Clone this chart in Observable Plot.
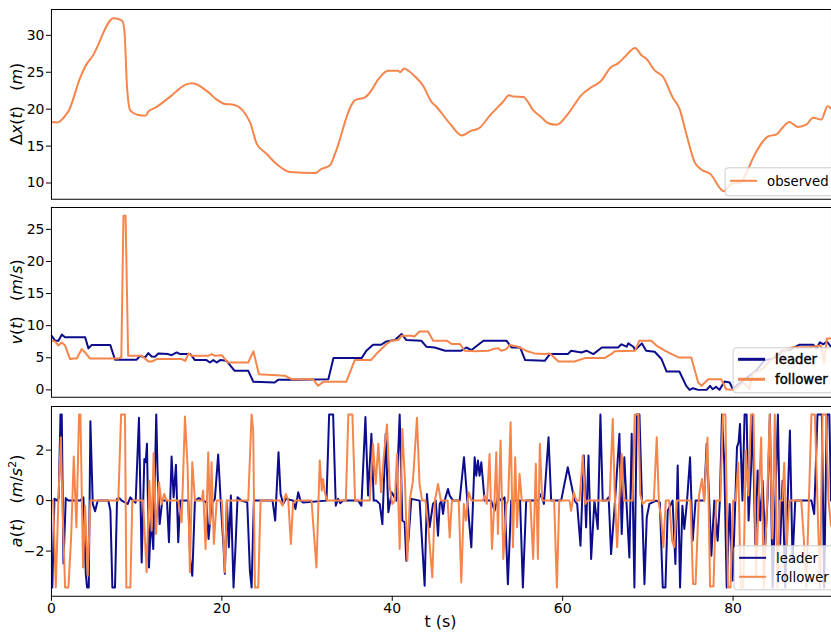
<!DOCTYPE html>
<html><head><meta charset="utf-8">
<script src="https://cdn.jsdelivr.net/npm/d3@7"></script>
<script src="https://cdn.jsdelivr.net/npm/@observablehq/plot@0.6"></script>
<style>
body{margin:0;background:#fff;}
#chart{width:831px;height:632px;overflow:hidden;}
#chart svg{display:block;}
</style></head><body><div id="chart"></div>
<script>
// ---- data (t in seconds, value) ----
const xTicks = [0, 20, 40, 60, 80];
const gapTicks = [10, 15, 20, 25, 30];
const velTicks = [0, 5, 10, 15, 20, 25];
const accTicks = [-2, 0, 2];
const seriesNames = ["observed", "leader", "follower"];

const gapObserved = [[0,18.25],[0.67,18.2],[1.64,19.16],[2.03,19.8],[3.4,24.35],[4.18,26.2],[4.77,27.1],[7.3,32.3],[8.29,32.0],[8.56,30.7],[8.87,23.0],[9.26,19.8],[10.2,19.2],[11.0,19.1],[11.4,19.7],[12.2,20.2],[13.95,21.7],[15.7,23.3],[16.55,23.5],[18.25,22.45],[19.4,21.3],[20.4,20.7],[21.4,20.6],[23.3,18.25],[24.1,15.3],[25.2,14.0],[26.6,12.4],[28.0,11.5],[30.95,11.35],[31.7,11.9],[32.7,12.4],[33.3,14.0],[35.1,20.3],[35.6,21.2],[36.8,21.6],[37.4,22.3],[38.4,24.1],[39.5,25.2],[40.7,25.2],[40.9,25.0],[41.4,25.5],[41.9,25.2],[42.7,24.4],[43.6,23.2],[44.6,21.0],[45.2,20.3],[46.8,18.0],[48.15,16.45],[49.3,17.1],[50.1,17.35],[51.5,19.2],[53.0,21.0],[53.7,21.9],[54.2,21.7],[55.4,21.65],[56.5,19.9],[57.5,18.9],[58.3,18.1],[59.3,17.9],[60.65,19.4],[62.2,21.9],[63.4,23.0],[64.4,23.7],[65.7,25.7],[66.5,26.2],[67.3,27.1],[68.5,28.3],[69.25,27.3],[69.8,26.85],[70.8,25.25],[71.8,24.35],[72.9,21.6],[73.7,20.1],[74.5,16.7],[75.5,12.8],[76.3,11.8],[77.3,11.25],[78.9,8.9],[79.8,9.9],[80.97,10.1],[81.5,11.25],[82.7,14.2],[84.1,16.3],[85.1,16.6],[85.7,17.35],[86.6,18.25],[87.6,17.6],[88.6,17.9],[89.4,18.85],[90.35,18.6],[91.1,20.4],[91.5,20.1]];

const velLeader = [[0,8.44],[0.43,7.66],[0.82,7.66],[1.21,8.6],[1.6,8.2],[3.95,8.2],[4.34,6.46],[4.73,7.0],[6.9,7.0],[7.46,4.7],[10.0,4.7],[10.4,5.3],[11.0,5.05],[11.37,5.73],[11.76,5.2],[12.15,5.15],[12.55,5.68],[13.7,5.57],[14.1,5.4],[14.7,5.83],[15.1,5.57],[16.3,5.57],[16.84,4.64],[18.2,4.64],[18.6,4.27],[19.0,4.64],[19.4,4.27],[19.8,4.64],[20.55,4.53],[21.5,2.97],[23.1,2.97],[23.7,1.25],[26.2,1.15],[26.6,1.56],[28.6,1.56],[32.5,1.67],[33.1,4.95],[36.4,4.95],[36.96,6.1],[37.75,7.03],[38.7,7.03],[39.3,7.55],[40.3,7.76],[41.1,8.7],[41.66,7.76],[43.4,7.66],[44.0,6.72],[44.98,6.6],[46.2,6.1],[48.1,6.1],[48.7,6.6],[49.3,6.2],[50.7,7.66],[53.4,7.66],[54.0,6.6],[55.0,6.6],[55.6,4.64],[57.9,4.53],[58.5,5.57],[60.6,5.57],[61.0,6.1],[62.2,5.83],[62.8,6.1],[63.6,5.57],[64.6,6.6],[66.5,6.6],[66.9,7.1],[67.5,6.72],[67.7,7.24],[68.3,6.72],[68.5,6.2],[69.3,7.24],[69.8,6.1],[70.8,5.94],[71.6,4.8],[72.2,2.86],[73.7,2.86],[74.5,0.63],[74.9,0],[75.3,0.26],[75.9,0],[76.9,0],[77.3,0.63],[77.6,0.1],[78.0,0.47],[78.4,0],[79.0,1.3],[79.6,1.15],[79.98,0.1],[80.5,0.8],[81.2,1.45],[82.7,3.0],[83.7,4.6],[84.7,4.9],[85.5,5.6],[85.7,6.1],[86.6,6.2],[87.8,7.03],[89.4,7.03],[89.8,6.5],[90.2,7.4],[90.6,7.1],[91.0,7.55],[91.5,6.7]];

const velFollower = [[0,7.66],[0.43,7.55],[0.82,6.9],[1.21,7.4],[1.6,6.9],[2.19,4.8],[2.58,4.9],[2.97,4.9],[3.56,6.35],[3.95,5.83],[4.5,4.9],[7.85,4.9],[8.2,5.05],[8.45,27.1],[8.7,27.1],[9.0,5.3],[10.6,5.3],[11.4,4.4],[11.76,4.4],[12.35,4.8],[15.3,4.8],[15.7,4.5],[16.1,5.68],[16.45,5.3],[18.4,5.3],[18.8,5.57],[19.2,5.3],[20.0,5.4],[20.4,4.7],[20.75,4.27],[23.1,4.27],[23.7,6.0],[24.35,2.45],[27.4,2.2],[28.2,1.67],[30.7,1.67],[31.3,0.63],[31.9,1.25],[34.6,1.25],[35.6,4.64],[37.5,4.64],[38.3,5.83],[39.3,7.1],[39.9,7.66],[40.7,7.76],[41.1,8.44],[42.25,8.44],[42.6,8.3],[43.2,9.1],[44.2,9.1],[44.8,7.66],[46.4,7.66],[46.97,7.14],[47.95,7.14],[48.5,6.1],[49.7,6.0],[51.3,6.1],[51.86,6.35],[52.4,6.5],[52.8,6.1],[53.4,6.35],[53.8,7.0],[54.8,6.7],[55.7,6.1],[56.7,5.68],[57.9,5.57],[58.5,5.68],[59.5,4.43],[61.4,4.43],[62.6,4.95],[64.9,4.95],[65.7,5.57],[66.1,6.0],[68.5,6.1],[69.0,7.66],[70.4,7.66],[71.0,6.9],[72.0,6.1],[72.8,5.57],[73.6,5.05],[75.1,5.05],[75.9,1.15],[76.3,0.63],[77.1,1.67],[78.6,1.67],[79.2,0.1],[80.0,0],[80.6,0.4],[81.2,1.2],[81.9,0.15],[82.3,2.5],[83.5,3.3],[85.1,5.6],[86.6,6.4],[87.0,6.65],[89.0,6.65],[90.3,6.9],[90.7,4.2],[91.0,8.0],[91.5,8.0]];

const accLeader = [[0,-3.44],[0.1,-3.44],[0.35,0.07],[0.67,0],[0.85,0.1],[1.06,3.41],[1.21,3.41],[1.41,-2.49],[1.68,0.1],[1.99,0],[3.36,0],[3.75,0.13],[4.03,-2.9],[4.18,-3.44],[4.38,-3.44],[4.57,3.15],[4.85,-0.13],[5.12,-0.42],[5.43,0],[6.68,0],[6.92,-0.4],[7.15,-3.44],[7.46,-3.44],[7.7,0.07],[7.97,0.1],[8.24,0],[8.95,-0.13],[9.26,0.13],[9.57,0],[9.88,-0.08],[10.27,3.28],[10.59,-2.45],[10.9,1.65],[11.06,1.52],[11.21,2.25],[11.45,-2.65],[11.68,-0.66],[11.95,-1.92],[12.15,1.19],[12.3,3.41],[12.46,1.06],[12.7,-0.93],[13.0,0],[13.56,0],[13.79,-1.65],[14.1,1.75],[14.34,0.13],[14.61,1.42],[14.88,-1.65],[15.12,0],[16.06,0],[16.29,-2.38],[16.53,-2.98],[16.84,0],[17.3,0.1],[18.2,-0.07],[18.44,-1.52],[18.79,-0.13],[19.18,0.07],[19.57,1.83],[19.88,-0.13],[20.2,-1.85],[20.35,-2.9],[20.59,0],[20.82,-1.85],[21.06,0.2],[21.37,-3.44],[21.6,-1.85],[21.84,0.13],[22.3,0],[22.98,-0.07],[23.29,-2.78],[23.49,-3.44],[23.76,0],[25.95,0],[26.26,-0.79],[26.65,1.92],[26.89,0.26],[27.2,-0.13],[27.51,0.07],[28.37,0],[28.64,-0.33],[28.96,0.33],[29.23,0],[29.54,-0.07],[32.28,0],[32.59,3.41],[33.06,3.41],[33.37,-0.2],[33.64,0.07],[33.92,-0.1],[34.23,0],[35.99,0],[36.38,-0.2],[36.85,3.31],[37.16,0.2],[37.55,2.65],[37.82,0],[38.14,0],[38.53,-0.13],[38.84,-0.93],[39.23,2.65],[39.54,-0.46],[39.93,0.33],[40.48,0],[40.87,3.41],[41.18,-0.79],[41.45,-0.86],[41.65,-2.38],[41.92,-1.46],[42.24,0.07],[43.21,0],[43.8,-3.37],[44.07,0.26],[44.38,-1.06],[44.78,-0.13],[45.1,0],[45.37,-1.39],[45.57,-0.13],[45.76,0],[45.96,-0.53],[46.15,0],[46.54,0.46],[46.74,0.2],[47.13,0],[47.91,0],[48.42,1.72],[48.81,0],[49.28,-1.85],[49.67,1.72],[49.86,0.99],[50.06,1.59],[50.25,0.99],[50.45,1.52],[50.84,0],[51.6,0],[52.01,-0.4],[52.4,0.13],[52.8,0],[53.18,0.13],[53.57,-3.31],[53.96,0],[55.0,0],[55.33,-3.44],[55.72,0],[57.1,0],[57.48,0.26],[57.8,-0.13],[58.34,2.51],[58.65,0],[59.82,0],[60.6,1.32],[61.0,0.66],[61.4,0],[61.7,-0.13],[62.09,-1.79],[62.48,1.79],[62.75,-1.06],[63.03,1.79],[63.34,-2.31],[63.73,0],[64.12,-1.12],[64.43,3.41],[64.7,0],[65.1,0],[65.4,0.13],[65.68,-2.12],[66.15,0],[66.66,2.65],[66.93,-1.32],[67.24,1.72],[67.5,-0.13],[67.83,-2.25],[68.1,2.65],[68.42,-3.44],[68.7,3.41],[69.01,3.41],[69.32,-0.13],[69.6,-3.31],[69.87,-0.66],[70.18,-0.13],[70.96,0],[71.4,-0.07],[71.75,-3.44],[72.06,-3.44],[72.33,-0.4],[72.9,0],[73.23,-2.51],[73.5,1.39],[73.78,-3.44],[74.05,-0.2],[74.28,-1.12],[74.6,0],[74.95,1.72],[75.26,-1.59],[75.6,0],[76.6,0],[76.9,2.25],[77.2,0],[77.45,-2.18],[77.8,0],[78.19,-1.59],[78.45,0],[78.7,3.41],[78.97,1.46],[79.25,-3.44],[79.6,-0.13],[79.95,-3.17],[80.26,0],[80.46,2.12],[80.65,2.31],[80.81,3.04],[81.1,0],[81.35,3.41],[81.59,3.41],[81.82,-0.79],[82.1,1.19],[82.29,3.41],[82.6,-1.72],[82.88,1.19],[83.19,-0.79],[83.46,0.79],[83.78,-1.72],[84.05,0.13],[84.32,3.41],[84.64,-3.44],[84.95,-0.13],[85.26,3.41],[85.53,-1.72],[85.81,0.79],[86.12,-3.44],[86.4,-0.13],[86.67,2.78],[86.98,-2.38],[87.3,0],[89.2,0],[89.52,-0.53],[89.91,3.41],[90.42,3.41],[90.69,-3.44],[91.0,3.41],[91.3,3.41],[91.5,0]];

const accFollower = [[0,0],[0.2,0],[0.51,-3.44],[0.8,-0.13],[1.1,2.51],[1.29,-0.13],[1.6,-3.44],[1.99,-3.44],[2.31,-1.46],[2.62,1.75],[2.93,-1.06],[3.24,3.41],[3.4,3.41],[3.71,-2.65],[3.95,-0.2],[4.26,-2.98],[4.57,0],[7.85,0],[8.17,3.41],[8.63,3.41],[8.79,-3.44],[9.26,-3.44],[9.49,0],[10.75,0],[11.17,-2.84],[11.49,0.79],[11.76,-1.19],[11.99,1.88],[12.27,-1.32],[12.62,0.73],[12.93,-0.13],[13.24,0.26],[13.5,0],[14.88,0],[15.28,-0.86],[15.67,3.33],[15.98,1.32],[16.25,-2.84],[16.53,1.52],[16.84,0],[17.62,0],[17.81,0.4],[18.09,-1.92],[18.4,1.92],[18.63,-0.93],[18.79,1.52],[19.06,-1.72],[19.4,0],[20.0,0],[20.35,-2.84],[20.6,0],[23.1,0],[23.49,3.41],[23.68,2.78],[23.88,-3.44],[24.27,-3.44],[24.54,0],[26.8,0],[27.12,-0.2],[27.51,0.26],[27.8,0],[28.1,-1.72],[28.35,-0.13],[28.6,0],[30.52,0],[31.1,-2.65],[31.49,1.59],[31.73,0.4],[31.88,0.86],[32.08,0.33],[32.35,0],[34.55,0],[34.85,3.41],[35.32,3.41],[35.64,0],[37.35,0],[37.74,2.25],[38.06,0.66],[38.37,2.25],[38.68,0.33],[39.0,1.72],[39.38,3.02],[39.7,0.53],[40.0,-0.13],[40.3,0],[40.56,1.85],[40.87,-1.92],[41.18,2.84],[41.49,0.79],[41.77,-2.38],[42.05,0],[42.43,0.79],[42.9,3.28],[43.2,0.66],[43.5,0],[43.9,0],[44.23,-1.06],[44.7,-3.04],[45.0,0],[45.37,0.66],[45.7,0],[46.5,0],[46.74,-1.46],[47.0,0],[47.8,0],[48.1,-3.24],[48.4,-0.13],[48.65,-0.79],[48.96,0.33],[49.3,0],[50.64,0],[50.84,0.2],[51.1,-0.13],[51.42,1.85],[51.7,-1.92],[52.0,0],[52.21,1.92],[52.4,-1.32],[52.71,2.38],[53.03,-2.31],[53.4,-0.13],[53.6,0],[53.89,3.11],[54.16,-1.85],[54.43,1.72],[54.65,-1.06],[54.94,1.06],[55.2,0],[56.2,0],[56.54,-2.31],[56.85,1.46],[57.09,-2.31],[57.32,2.25],[57.6,0],[59.0,0],[59.32,-3.44],[59.6,0],[60.8,0],[61.0,-0.4],[61.31,0.33],[61.6,0],[61.97,0],[62.36,1.79],[62.65,-0.13],[62.9,0],[65.5,0],[65.88,3.24],[66.1,0.4],[66.39,-1.85],[66.65,0],[66.93,1.85],[67.2,0],[68.2,0],[68.45,3.41],[68.9,3.41],[69.1,0.26],[69.4,-0.13],[69.8,0],[70.7,0],[71.04,2.51],[71.3,-0.13],[71.55,-0.66],[71.82,-1.85],[72.1,0],[72.5,0],[72.84,-1.59],[73.11,-1.85],[73.4,0],[75.0,0],[75.3,-3.3],[75.6,-3.3],[76.0,0.2],[76.36,0.86],[76.6,0],[77.0,2.5],[77.3,-3.4],[77.7,-3.4],[78.0,0],[78.5,0],[78.8,3.41],[79.1,3.41],[79.4,-3.44],[79.7,-3.44],[80.0,0],[80.3,0],[80.6,1.5],[80.9,-3.44],[81.2,-3.44],[81.5,2.0],[81.8,0.2],[82.1,3.41],[82.4,3.41],[82.7,-3.0],[83.0,0],[83.3,2.5],[83.6,-3.44],[84.0,0],[84.3,3.41],[84.6,-1.5],[84.9,3.41],[85.2,-3.44],[85.5,0],[85.8,0],[86.0,1.5],[86.3,-1.8],[86.6,0],[88.0,0],[88.3,-1.5],[88.6,-3.44],[88.9,0],[89.2,3.41],[89.6,3.41],[89.9,0],[90.2,-3.44],[90.5,3.41],[90.9,3.41],[91.2,0],[91.5,-1]];

// ---- styling ----
const BLUE = "#0c0c8c";
const ORANGE = "#f5854a";
const FONT = "DejaVu Sans";
const W = 832, ML = 51, MR = 0;
const X_DOMAIN = [0, 91.55];

function rows(arr) { return arr.map(([t, v]) => ({t, v})); }

function panel({height, mt, mb, yDomain, yTicks, series, showX}) {
  const marks = series.map(s =>
    Plot.line(rows(s.data), {x: "t", y: "v", stroke: s.color, strokeWidth: 2, clip: true,
      strokeLinejoin: "round", curve: s.curve || "linear"})
  );
  marks.push(Plot.frame({stroke: "black", strokeWidth: 1}));
  marks.push(Plot.axisY({ticks: yTicks, tickSize: 5, tickPadding: 2, label: null, fontSize: 14}));
  if (showX) marks.push(Plot.axisX({ticks: xTicks, tickSize: 5, tickPadding: 2, label: null, fontSize: 14}));
  return Plot.plot({
    width: W, height, marginLeft: ML, marginRight: MR, marginTop: mt, marginBottom: mb,
    x: {domain: X_DOMAIN, axis: showX ? undefined : null},
    y: {domain: yDomain},
    style: {fontFamily: FONT, fontSize: "14px", color: "black", background: "white", overflow: "visible"},
    marks
  });
}

function yLabel(svg, cy, parts) {
  const t = d3.select(svg).append("text")
    .attr("transform", `translate(22,${cy}) rotate(-90)`)
    .attr("text-anchor", "middle")
    .attr("font-family", FONT).attr("font-size", 16).attr("fill", "black")
    .style("white-space", "pre");
  for (const p of parts) {
    const s = t.append("tspan").text(p.s);
    if (p.i) s.attr("font-style", "italic");
    if (p.sup) s.attr("font-size", 11).attr("dy", -6);
    if (p.down) s.attr("dy", 6);
  }
}

function legend(svg, x, y, w, h, items, opts = {}) {
  const g = d3.select(svg).append("g").attr("text-anchor", "start");
  g.append("rect").attr("x", x).attr("y", y).attr("width", w).attr("height", h)
    .attr("rx", 3).attr("fill", "white").attr("fill-opacity", 0.8)
    .attr("stroke", "#cccccc").attr("stroke-width", 1);
  items.forEach((it, i) => {
    const ly = y + opts.first + i * opts.step;
    g.append("line").attr("x1", x + 5).attr("x2", x + 32).attr("y1", ly).attr("y2", ly)
      .attr("stroke", it.color).attr("stroke-width", opts.lw || 2);
    const tx = g.append("text").attr("x", x + 42).attr("y", ly).attr("dy", "0.36em")
      .attr("text-anchor", "start")
      .attr("font-family", FONT).attr("font-size", 13.3).attr("fill", "black").text(it.name);
    if (opts.heavy) tx.attr("stroke", "black").attr("stroke-width", 0.4);
  });
}

const root = document.getElementById("chart");

// Panel 1: gap
const p1 = panel({height: 203, mt: 9, mb: 4, yDomain: [7.8, 33.5], yTicks: gapTicks,
  series: [{data: gapObserved, color: ORANGE, curve: "monotone-x"}], showX: false});
root.appendChild(p1);
yLabel(p1, 104, [{s: "Δ"}, {s: "x", i: 1}, {s: "("}, {s: "t", i: 1}, {s: ")   ("}, {s: "m", i: 1}, {s: ")"}]);
legend(p1, 726, 168, 110, 28, [{name: seriesNames[0], color: ORANGE}], {first: 13, step: 0});

// Panel 2: speed
const p2 = panel({height: 202, mt: 4, mb: 8, yDomain: [-1.15, 28.4], yTicks: velTicks,
  series: [{data: velLeader, color: BLUE}, {data: velFollower, color: ORANGE}], showX: false});
root.appendChild(p2);
yLabel(p2, 99, [{s: "v", i: 1}, {s: "("}, {s: "t", i: 1}, {s: ")   ("}, {s: "m", i: 1}, {s: "/"}, {s: "s", i: 1}, {s: ")"}]);
legend(p2, 734, 145, 110, 45, [{name: seriesNames[1], color: BLUE}, {name: seriesNames[2], color: ORANGE}],
  {first: 11.5, step: 20, lw: 3, heavy: true});

// Panel 3: acceleration
const p3 = panel({height: 227, mt: 1, mb: 36, yDomain: [-3.79, 3.73], yTicks: accTicks,
  series: [{data: accLeader, color: BLUE}, {data: accFollower, color: ORANGE}], showX: true});
root.appendChild(p3);
yLabel(p3, 96, [{s: "a", i: 1}, {s: "("}, {s: "t", i: 1}, {s: ")   ("}, {s: "m", i: 1}, {s: "/"}, {s: "s", i: 1}, {s: "2", sup: 1}, {s: ")", down: 1}]);
legend(p3, 735, 141, 110, 44, [{name: seriesNames[1], color: BLUE}, {name: seriesNames[2], color: ORANGE}],
  {first: 12, step: 19, lw: 2});
d3.select(p3).append("text").attr("x", 441).attr("y", 222)
  .attr("text-anchor", "middle").attr("font-family", FONT).attr("font-size", 16).attr("fill", "black").text("t (s)");
</script>
</body></html>
